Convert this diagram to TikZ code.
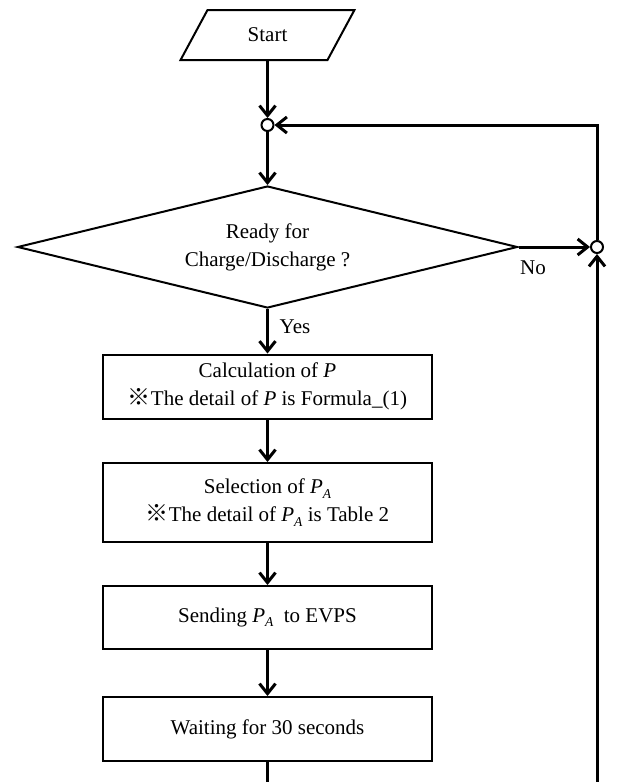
\documentclass[tikz,border=0pt]{standalone}
\usepackage{fontspec}
\setmainfont{Liberation Serif}
\newfontfamily\cjk{Noto Sans CJK JP}
\usetikzlibrary{arrows.meta}
\usetikzlibrary{shapes}
\usetikzlibrary{calc}

\newcommand{\refmark}{{\cjk\fontsize{23}{28}\selectfont ※}}
\newcommand{\pA}{\textit{P}\raisebox{-0.45ex}{\fontsize{13.5}{13.5}\selectfont\textit{A}}}

\begin{document}
\begin{tikzpicture}[x=1pt,y=-1pt,
    font=\fontsize{21}{28}\selectfont,
    flow box/.style={draw, line width=2pt, minimum width=329pt, align=center, inner sep=0pt},
    junction/.style={draw, circle, line width=2pt, minimum size=12pt, inner sep=0pt, fill=white},
    flow arrow/.style={line width=3pt, -{Straight Barb[length=10pt,width=16pt]}}]
  \useasboundingbox (0,0) rectangle (618,782);
  \node[draw, line width=2pt, trapezium, trapezium left angle=63.4, trapezium right angle=116.6,
        trapezium stretches=true, minimum width=175pt, minimum height=50pt] (start) at (267.5,35) {Start};
  \node[junction] (j1) at (267.5,125) {};
  \node[draw, diamond, line width=2pt, aspect=4.1, minimum width=500pt, minimum height=122pt,
        inner sep=0pt, align=center] (ready) at (267.5,247) {Ready for\\Charge/Discharge ?};
  \node[junction] (j2) at (597,247) {};
  \node[flow box, minimum height=64pt] (calc) at (267.5,386.5)
    {Calculation of \textit{P}\\\refmark The detail of \textit{P} is Formula\_(1)};
  \node[flow box, minimum height=79pt] (select) at (267.5,502.5)
    {Selection of \pA\\\refmark The detail of \pA{} is Table 2};
  \node[flow box, minimum height=63pt] (send) at (267.5,617.5) {Sending \pA\ \ to EVPS};
  \node[flow box, minimum height=64pt] (wait) at (267.5,729) {Waiting for 30 seconds};
  \coordinate (wait end) at (267.5,795);
  \coordinate (loop end) at (597,795);
  % main flow
  \draw[flow arrow] (start) -- (j1);
  \draw[flow arrow] (j1) -- (ready.north);
  \draw[flow arrow] (ready.south) -- (calc);
  \draw[flow arrow] (calc) -- (select);
  \draw[flow arrow] (select) -- (send);
  \draw[flow arrow] (send) -- (wait);
  \draw[line width=3pt] (wait) -- (wait end);
  % loop back
  \draw[flow arrow] (ready.east) -- (j2);
  \draw[flow arrow] (loop end) -- (j2);
  \draw[flow arrow] (j2) |- (j1);
  \node (no) at (533,268) {No};
  \node (yes) at (295,327) {Yes};
\end{tikzpicture}
\end{document}
